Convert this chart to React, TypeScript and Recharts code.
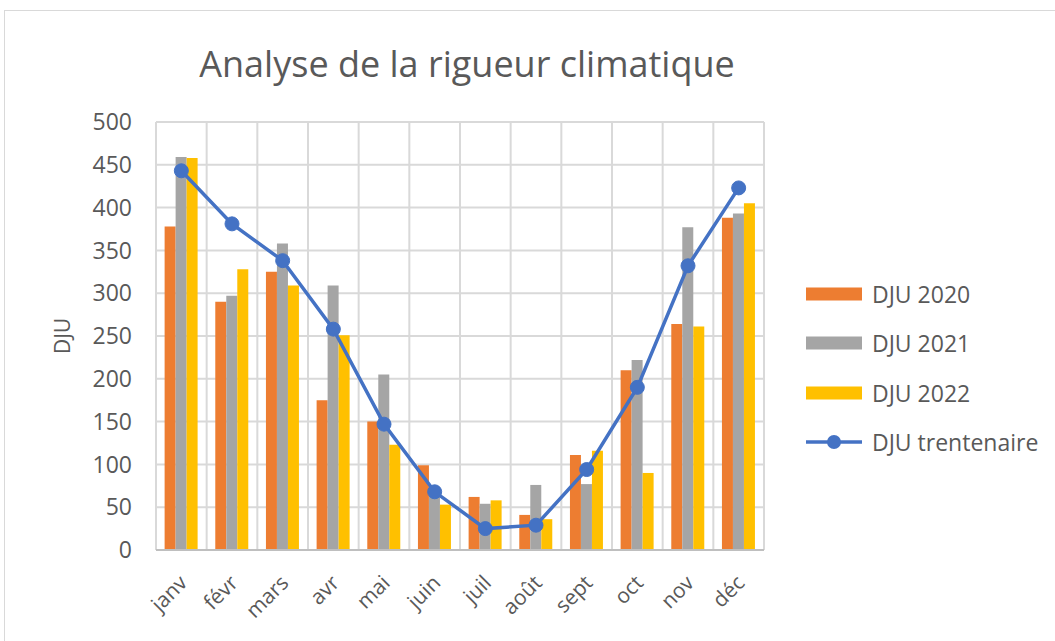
import React from "react";
import {
  ComposedChart,
  Bar,
  Line,
  XAxis,
  YAxis,
  CartesianGrid,
  Legend,
  Label,
} from "recharts";

const months = ["janv", "févr", "mars", "avr", "mai", "juin", "juil", "août", "sept", "oct", "nov", "déc"];
const dju2020 = [378, 290, 325, 175, 150, 99, 62, 41, 111, 210, 264, 388];
const dju2021 = [459, 297, 358, 309, 205, 65, 54, 76, 77, 222, 377, 393];
const dju2022 = [458, 328, 309, 251, 123, 53, 58, 36, 116, 90, 261, 405];
const djuTrente = [443, 381, 338, 258, 147, 68, 25, 29, 94, 190, 332, 423];
const yTicks = [0, 50, 100, 150, 200, 250, 300, 350, 400, 450, 500];

const FONT = "'Open Sans', 'Liberation Sans', sans-serif";
const TEXT = "#595959";

const series = [
  { key: "dju2020", name: "DJU 2020", color: "#ED7D31", type: "bar" },
  { key: "dju2021", name: "DJU 2021", color: "#A5A5A5", type: "bar" },
  { key: "dju2022", name: "DJU 2022", color: "#FFC000", type: "bar" },
  { key: "trente", name: "DJU trentenaire", color: "#4472C4", type: "line" },
];

const data = months.map((m, i) => ({
  month: m,
  dju2020: dju2020[i],
  dju2021: dju2021[i],
  dju2022: dju2022[i],
  trente: djuTrente[i],
}));

function MonthTick(props: any) {
  const { x, y, payload } = props;
  return (
    <g transform={`translate(${x + 2},${y + 21}) rotate(-45)`}>
      <text x={0} y={0} dy="0.35em" textAnchor="end" fill={TEXT} fontSize={21} fontFamily={FONT}>
        {payload.value}
      </text>
    </g>
  );
}

function SideLegend() {
  return (
    <div style={{ fontFamily: FONT, fontSize: 23, color: TEXT }}>
      {series.map((s) => (
        <div key={s.key} style={{ display: "flex", alignItems: "center", height: 49.5 }}>
          <svg width={57} height={16} style={{ marginRight: 9 }}>
            {s.type === "bar" ? (
              <rect x={0} y={1.5} width={56} height={13} fill={s.color} />
            ) : (
              <g>
                <line x1={0} y1={8} x2={56} y2={8} stroke={s.color} strokeWidth={3.5} />
                <circle cx={28} cy={8} r={7} fill={s.color} />
              </g>
            )}
          </svg>
          <span>{s.name}</span>
        </div>
      ))}
    </div>
  );
}

export default function App() {
  return (
    <div
      style={{
        position: "absolute",
        left: 4,
        top: 10,
        width: 1051,
        height: 640,
        border: "1px solid #d9d9d9",
        background: "#fff",
        overflow: "hidden",
      }}
    >
      <div
        style={{
          position: "absolute",
          left: 162,
          top: 31,
          width: 600,
          textAlign: "center",
          fontFamily: FONT,
          fontSize: 36,
          lineHeight: "44px",
          color: TEXT,
          whiteSpace: "nowrap",
        }}
      >
        Analyse de la rigueur climatique
      </div>
      <ComposedChart
        width={1051}
        height={631}
        data={data}
        margin={{ top: 111, right: 42, bottom: 32, left: 51 }}
        barGap={0}
        barCategoryGap="17%"
      >
        <CartesianGrid
          stroke="#d9d9d9"
          strokeWidth={2}
          verticalCoordinatesGenerator={({ offset }: any) =>
            months.map((_, i) => offset.left + (i * offset.width) / months.length).concat(offset.left + offset.width)
          }
        />
        <XAxis
          dataKey="month"
          tick={<MonthTick />}
          tickLine={false}
          axisLine={{ stroke: "#bfbfbf", strokeWidth: 2 }}
          height={60}
          interval={0}
        />
        <YAxis
          domain={[0, 500]}
          ticks={yTicks}
          width={100}
          tickLine={false}
          axisLine={false}
          tickMargin={18}
          tick={{ fill: TEXT, fontSize: 23, fontFamily: FONT }}
        >
          <Label
            value="DJU"
            angle={-90}
            position="center"
            dx={-43}
            style={{ fill: TEXT, fontSize: 21, fontFamily: FONT }}
          />
        </YAxis>
        <Legend
          layout="horizontal"
          verticalAlign="middle"
          align="right"
          content={<SideLegend />}
          wrapperStyle={{ left: 801, top: 258, width: 250 }}
        />
        {series
          .filter((s) => s.type === "bar")
          .map((s) => (
            <Bar key={s.key} dataKey={s.key} name={s.name} fill={s.color} isAnimationActive={false} />
          ))}
        <Line
          dataKey="trente"
          name="DJU trentenaire"
          stroke="#4472C4"
          strokeWidth={3.5}
          dot={{ r: 7, fill: "#4472C4", stroke: "#4472C4", strokeWidth: 1 }}
          activeDot={false}
          isAnimationActive={false}
        />
      </ComposedChart>
    </div>
  );
}
